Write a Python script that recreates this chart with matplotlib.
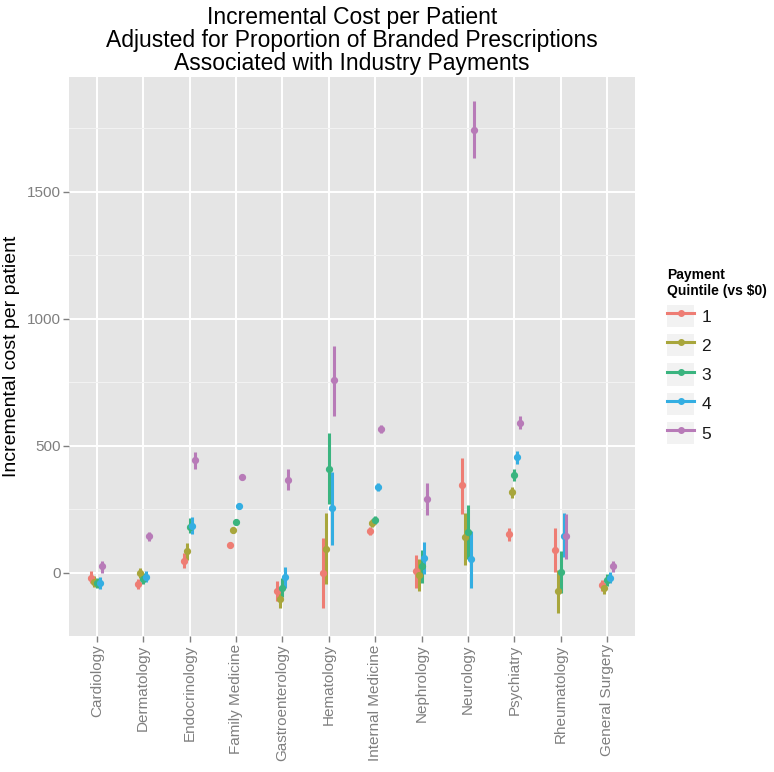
import numpy as np
import matplotlib
matplotlib.use('Agg')
import matplotlib.pyplot as plt
from matplotlib.lines import Line2D
from matplotlib.patches import Rectangle

plt.rcParams['font.family'] = ['Liberation Sans', 'DejaVu Sans']

# Specialties on the x axis
specialties = ['Cardiology', 'Dermatology', 'Endocrinology', 'Family Medicine',
               'Gastroenterology', 'Hematology', 'Internal Medicine', 'Nephrology',
               'Neurology', 'Psychiatry', 'Rheumatology', 'General Surgery']

quintiles = ['1', '2', '3', '4', '5']

# Estimates per quintile (one value per specialty)
est_q1 = [-20, -45, 47, 110, -71, 0, 166, 5, 345, 151, 89, -49]
est_q2 = [-35, 0, 87, 168, -102, 95, 196, -7, 139, 316, -72, -62]
est_q3 = [-40, -25, 181, 201, -60, 410, 207, 25, 160, 385, 3, -29]
est_q4 = [-40, -16, 185, 264, -16, 253, 338, 59, 53, 454, 146, -20]
est_q5 = [26, 146, 442, 378, 367, 757, 564, 292, 1743, 591, 144, 26]

# Lower confidence limits
lo_q1 = [-42, -66, 17, 101, -112, -138, 150, -59, 233, 125, 4, -71]
lo_q2 = [-58, -20, 52, 157, -140, -46, 180, -72, 32, 293, -157, -84]
lo_q3 = [-62, -46, 155, 192, -97, 270, 191, -41, 55, 361, -81, -52]
lo_q4 = [-65, -37, 151, 255, -59, 108, 322, -4, -59, 430, 60, -42]
lo_q5 = [0, 123, 407, 369, 325, 618, 549, 228, 1632, 564, 56, 4]

# Upper confidence limits
hi_q1 = [5, -26, 76, 119, -33, 137, 180, 68, 453, 177, 175, -29]
hi_q2 = [-12, 20, 118, 177, -68, 237, 213, 53, 237, 339, 10, -39]
hi_q3 = [-22, -3, 214, 210, -20, 549, 224, 88, 266, 408, 85, -5]
hi_q4 = [-18, 5, 218, 272, 24, 395, 354, 121, 163, 479, 234, 4]
hi_q5 = [48, 161, 474, 386, 407, 894, 580, 355, 1858, 617, 230, 47]

estimates = [est_q1, est_q2, est_q3, est_q4, est_q5]
lowers = [lo_q1, lo_q2, lo_q3, lo_q4, lo_q5]
uppers = [hi_q1, hi_q2, hi_q3, hi_q4, hi_q5]

colors = ['#EE7D74', '#A8A63C', '#3AB47F', '#34AEE2', '#B87BB8']

fig = plt.figure(figsize=(7.74, 7.72), dpi=100)
ax = fig.add_axes([0.0891, 0.1762, 0.7313, 0.7241])
ax.set_facecolor('#E5E5E5')

# Dodge the five quintiles within each specialty
x = np.arange(len(specialties))
dodge = 0.06
for i, q in enumerate(quintiles):
    xpos = x + (i - 2) * dodge
    ax.vlines(xpos, lowers[i], uppers[i], color=colors[i], lw=2.2, zorder=3)
    ax.plot(xpos, estimates[i], 'o', color=colors[i], ms=4.2, zorder=4)

ax.set_xlim(-0.6, len(specialties) - 0.4)
ax.set_ylim(-249, 1952)

# Grid lines, ggplot style
ax.set_yticks([0, 500, 1000, 1500])
ax.set_yticks([250, 750, 1250, 1750], minor=True)
ax.set_xticks(x)
ax.set_xticklabels(specialties, rotation=90)
ax.grid(which='major', color='white', lw=1.4)
ax.grid(which='minor', axis='y', color='#F2F2F2', lw=0.8)
ax.set_axisbelow(True)
for s in ax.spines.values():
    s.set_visible(False)
ax.tick_params(which='major', color='#7F7F7F', length=4, width=1,
               labelcolor='#7F7F7F', labelsize=11, pad=2)
ax.tick_params(which='minor', length=0)

fig.text(12 / 774, 1 - 356 / 772, 'Incremental cost per patient', fontsize=14,
         rotation=90, ha='center', va='center')
ax.set_title('Incremental Cost per Patient\n'
             'Adjusted for Proportion of Branded Prescriptions\n'
             'Associated with Industry Payments', fontsize=16.5, pad=5,
             linespacing=1.0)

# Legend with grey key boxes
handles = []
for c in colors:
    box = Rectangle((0, 0), 1, 1, facecolor='#F2F2F2', edgecolor='none')
    line = Line2D([], [], color=c, lw=2.2, marker='o', ms=4)
    handles.append((box, line))
leg = fig.legend(handles, quintiles, loc='upper left',
                 bbox_to_anchor=(658 / 774, 1 - 259 / 772),
                 frameon=False, borderpad=0, handlelength=1.6, handleheight=1.6,
                 handletextpad=0.4, labelspacing=0.4, fontsize=12.5,
                 title='Payment\nQuintile (vs $0)',
                 title_fontproperties={'weight': 'bold', 'size': 10},
                 alignment='left')
for t in leg.get_texts():
    t.set_color('#1A1A1A')

fig.savefig('out.png', dpi=100)
